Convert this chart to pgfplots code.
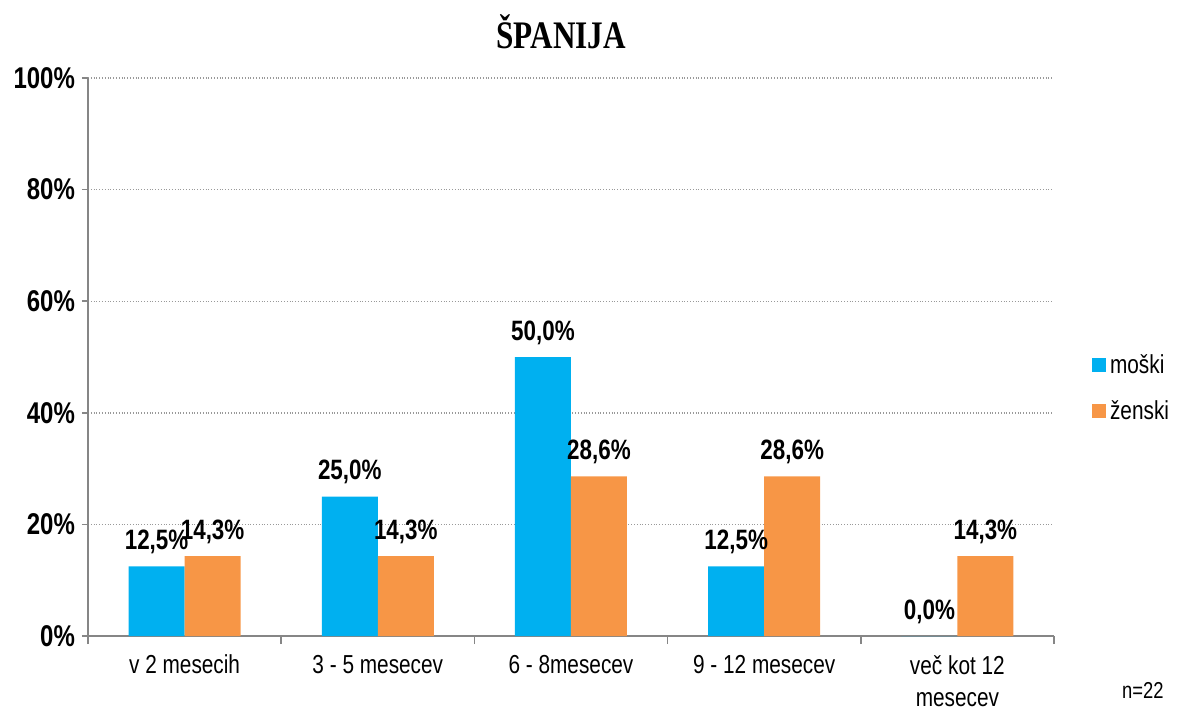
\documentclass[border=0pt]{standalone}
\usepackage{pgfplots}
\pgfplotsset{compat=1.18}
\usepackage{fontspec}
\setmainfont[FakeStretch=0.8]{Liberation Sans}
\newfontfamily\titlefont[FakeStretch=0.8]{Liberation Serif}
\definecolor{moskiblue}{HTML}{00B0F0}
\definecolor{zenskiorange}{HTML}{F79646}
\definecolor{axgray}{HTML}{868686}

\begin{document}
\begin{tikzpicture}
\begin{axis}[
    at={(0,0)}, anchor=south west,
    scale only axis,
    width=483pt, height=279pt,
    ybar=0pt,
    bar width=28pt,
    xmin=-0.5, xmax=4.5,
    ymin=0, ymax=100,
    xtick={0,1,2,3,4},
    xticklabels={v 2 mesecih, 3 - 5 mesecev, 6 - 8mesecev, 9 - 12 mesecev, {več kot 12\\mesecev}},
    x tick label style={font=\fontsize{13}{16}\selectfont, align=center, yshift=-3pt},
    major x tick style={draw=none},
    minor xtick={-0.5,0.5,1.5,2.5,3.5,4.5},
    minor x tick style={draw=axgray, line width=0.8pt},
    minor tick length=4pt,
    ytick={0,20,40,60,80,100},
    yticklabel={\pgfmathprintnumber{\tick}\%},
    y tick label style={font=\fontsize{15}{17}\selectfont\bfseries},
    major y tick style={draw=axgray, line width=0.8pt},
    major tick length=3pt,
    tick align=outside,
    /pgf/number format/assume math mode=true,
    axis x line*=bottom,
    axis y line*=left,
    axis line style={draw=axgray, line width=0.8pt, -},
    ymajorgrids,
    grid style={gray!80, densely dotted, line width=0.7pt},
    clip=false,
    nodes near coords={\pgfmathprintnumber[fixed,zerofill,precision=1,use comma]{\pgfplotspointmeta}\%},
    nodes near coords style={font=\fontsize{14}{16}\selectfont\bfseries, inner sep=2pt, yshift=4pt},
    every node near coord/.append style={/pgf/number format/assume math mode=true},
    legend style={at={(1.039,0.444)}, anchor=west, draw=none, fill=none,
        font=\fontsize{13}{15}\selectfont, row sep=8pt, inner sep=0pt},
    legend cell align=left,
    legend image code/.code={\fill[#1] (0pt,-3.5pt) rectangle (7pt,3.5pt);},
]
\addplot[fill=moskiblue, draw=none] coordinates {(0,12.5) (1,25.0) (2,50.0) (3,12.5) (4,0.0)};
\addlegendentry{moški}
\addplot[fill=zenskiorange, draw=none] coordinates {(0,14.3) (1,14.3) (2,28.6) (3,28.6) (4,14.3)};
\addlegendentry{ženski}
\node[font=\titlefont\fontsize{19.5}{22}\selectfont\bfseries] at (rel axis cs:0.49,1.082) {ŠPANIJA};
\node[font=\fontsize{11.5}{13}\selectfont] at (rel axis cs:1.092,-0.097) {n=22};
\end{axis}
\pgfresetboundingbox
\path[use as bounding box] (-44pt,-36.5pt) rectangle (550.5pt,318pt);
\end{tikzpicture}
\end{document}
